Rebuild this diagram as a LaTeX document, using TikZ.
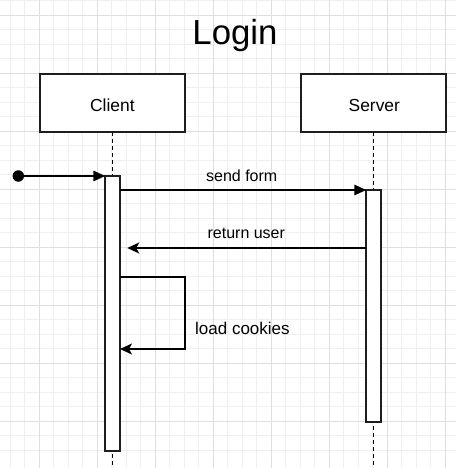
\documentclass[tikz,border=0pt]{standalone}
\usepackage{fontspec}
\setmainfont{Liberation Sans}
\usetikzlibrary{arrows.meta,calc}
\definecolor{gridminor}{HTML}{EFEFEF}
\definecolor{gridmajor}{HTML}{DEDEDE}
\definecolor{ink}{HTML}{1E1E1E}
\tikzset{
  actor/.style={draw=ink,line width=1.6pt,fill=white,minimum width=145pt,minimum height=58pt,inner sep=0pt,outer sep=0pt},
  actorlabel/.style={font=\fontsize{17.4}{20}\selectfont,inner sep=0pt,anchor=base},
  activation/.style={draw=ink,line width=1.6pt,fill=white,minimum width=14.5pt,inner sep=0pt,outer sep=0pt},
  lifeline/.style={draw=black,line width=1.6pt,dash pattern=on 4pt off 3pt},
  callmsg/.style={draw=black,line width=1.6pt,-{Triangle[length=12pt,width=10.5pt]}},
  retmsg/.style={draw=black,line width=1.6pt,-{Stealth[length=12pt,width=11pt,inset=3pt]}},
  msglabel/.style={font=\fontsize{16}{19}\selectfont,inner sep=0pt,anchor=base},
}
\begin{document}
\begin{tikzpicture}[x=1pt,y=-1pt]
\useasboundingbox (0,0) rectangle (456,468);
% grid
\foreach \i in {0,...,31} {
  \draw[gridminor,line width=0.8pt] ({10.3+14.5*\i},0) -- ({10.3+14.5*\i},468);
  \draw[gridminor,line width=0.8pt] (0,{0.8+14.5*\i}) -- (456,{0.8+14.5*\i});
}
\foreach \i in {0,...,7} {
  \draw[gridmajor,line width=0.8pt] ({39.3+58*\i},0) -- ({39.3+58*\i},468);
  \draw[gridmajor,line width=0.8pt] (0,{15.3+58*\i}) -- (456,{15.3+58*\i});
}
% title
\node[font=\fontsize{34.8}{40}\selectfont,inner sep=0pt,anchor=base] (title) at (235,44.3) {Login};
% participants
\node[actor] (client) at (112.5,102.75) {};
\node[actor] (server) at (373.5,102.75) {};
\node[actorlabel] (clientlbl) at (112.4,111) {Client};
\node[actorlabel] (serverlbl) at (374.3,111) {Server};
\coordinate (cend) at (112.5,468);
\coordinate (send) at (373.5,468);
\draw[lifeline] (client.south) -- (cend);
\draw[lifeline] (server.south) -- (send);
% activations
\node[activation,minimum height=275pt] (cbar) at (112.5,313.5) {};
\node[activation,minimum height=232pt] (sbar) at (373.5,306) {};
% start
\node[circle,fill=black,inner sep=0pt,minimum size=11.5pt] (start) at (18.3,176) {};
\draw[callmsg] (start) -- (cbar.north west);
% send form
\draw[callmsg] (cbar.east |- sbar.north west) -- (sbar.north west);
\node[msglabel] (l1) at (241.7,181.7) {send form};
% return user
\coordinate (ru) at (366,248);
\draw[retmsg,shorten >=7.5pt] (ru) -- (cbar.east |- ru);
\node[msglabel] (l2) at (246.3,238.7) {return user};
% self call
\coordinate (lc1) at (120,277);
\coordinate (lc2) at (120,349);
\draw[retmsg] (lc1) -- (185,277) -- (185,349) -- (lc2);
\node[msglabel,font=\fontsize{17}{20}\selectfont,anchor=base west] (l3) at (195,334.7) {load cookies};
\end{tikzpicture}
\end{document}
